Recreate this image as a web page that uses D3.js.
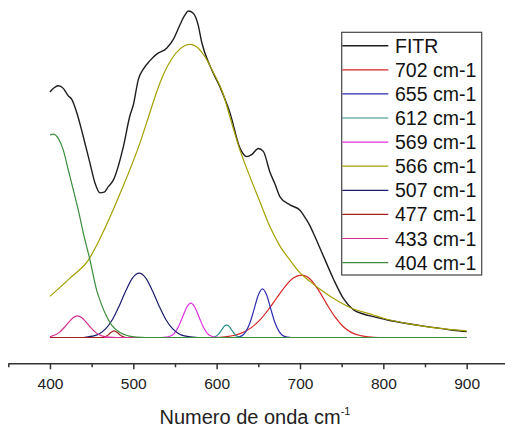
<!DOCTYPE html>
<html>
<head>
<meta charset="utf-8">
<script src="https://cdn.jsdelivr.net/npm/d3@7"></script>
<style>
  html, body { margin: 0; padding: 0; background: #fff; }
  svg { display: block; font-family: "Liberation Sans", Arial, sans-serif; }
</style>
</head>
<body>
<svg id="chart" width="505" height="429"></svg>
<script>
// ---- Data (wavenumber cm-1, absorbance a.u.) ----
const fitr = [[400,0.752],[405,0.765],[410,0.771],[416,0.763],[422,0.740],[426,0.730],[432,0.690],[440,0.615],[448,0.534],[454,0.473],[460,0.443],[465,0.445],[470,0.462],[476,0.482],[488,0.584],[496,0.680],[500,0.712],[506,0.790],[512,0.822],[520,0.848],[528,0.868],[540,0.886],[548,0.913],[556,0.958],[562,0.988],[566,1.0],[572,0.993],[578,0.955],[582,0.905],[592,0.832],[604,0.767],[616,0.688],[628,0.580],[636,0.554],[642,0.560],[650,0.579],[656,0.570],[664,0.506],[670,0.470],[676,0.431],[688,0.406],[700,0.390],[706,0.368],[712,0.342],[716,0.320],[728,0.250],[740,0.180],[752,0.120],[764,0.085],[776,0.072],[788,0.064],[808,0.052],[828,0.043],[848,0.035],[868,0.028],[884,0.022],[900,0.018]];

const c702 = [[400,0],[600,0],[612,0.003],[622,0.007],[632,0.016],[642,0.031],[652,0.054],[662,0.085],[672,0.121],[682,0.156],[692,0.182],[702,0.191],[712,0.179],[722,0.146],[732,0.103],[742,0.063],[752,0.033],[762,0.015],[772,0.006],[782,0.002],[795,0],[900,0]];
const c655 = [[400,0],[620,0],[625,0.001],[630,0.005],[635,0.018],[640,0.045],[645,0.087],[650,0.130],[655,0.149],[660,0.130],[665,0.087],[670,0.045],[675,0.018],[680,0.005],[685,0.001],[690,0],[900,0]];
const c612 = [[400,0],[594,0],[598,0.0025],[602,0.0095],[606,0.023],[609,0.034],[612,0.038],[615,0.034],[618,0.023],[622,0.0095],[626,0.0025],[630,0],[900,0]];
const c569 = [[400,0],[534,0],[539,0.001],[544,0.004],[549,0.012],[554,0.032],[559,0.062],[564,0.092],[569,0.105],[574,0.092],[579,0.062],[584,0.032],[589,0.012],[594,0.004],[599,0.001],[604,0],[900,0]];
const c566 = [[400,0.126],[424,0.182],[446,0.237],[466,0.335],[484,0.440],[508,0.596],[520,0.690],[528,0.752],[536,0.805],[546,0.853],[556,0.884],[568,0.898],[578,0.886],[586,0.860],[596,0.812],[608,0.745],[616,0.675],[628,0.574],[640,0.492],[652,0.415],[664,0.339],[676,0.280],[688,0.237],[700,0.198],[712,0.172],[724,0.148],[748,0.108],[760,0.092],[788,0.069],[800,0.059],[840,0.038],[868,0.028],[900,0.020]];
const c507 = [[400,0],[440,0],[443,0.001],[451,0.004],[459,0.011],[467,0.027],[475,0.055],[483,0.096],[491,0.143],[499,0.182],[507,0.197],[515,0.182],[523,0.143],[531,0.096],[539,0.055],[547,0.027],[555,0.011],[563,0.004],[571,0.001],[578,0],[900,0]];
const c477 = [[400,0],[462,0],[466,0.002],[470,0.008],[473,0.015],[477,0.020],[481,0.015],[484,0.008],[488,0.002],[492,0],[900,0]];
const c433 = [[400,0.002],[411,0.015],[418,0.033],[424,0.051],[428,0.061],[433,0.066],[438,0.061],[442,0.051],[448,0.033],[455,0.015],[463,0.004],[471,0.001],[480,0],[900,0]];
const c404 = [[400,0.620],[404,0.623],[410,0.610],[416,0.574],[422,0.513],[428,0.452],[434,0.390],[440,0.320],[448,0.237],[456,0.145],[462,0.100],[468,0.064],[474,0.038],[484,0.015],[494,0.005],[504,0.001],[515,0],[900,0]];

const seriesNames = ["FITR","702 cm-1","655 cm-1","612 cm-1","569 cm-1","566 cm-1","507 cm-1","477 cm-1","433 cm-1","404 cm-1"];
const seriesData = [fitr, c702, c655, c612, c569, c566, c507, c477, c433, c404];
const seriesColors = ["#1e1e1e","#d42424","#2e2eae","#2a8a8a","#e030e0","#a3a000","#1c1c70","#a02222","#d6308c","#3c8c3c"];

const majorTicks = [400,500,600,700,800,900];
const minorTicks = [350,450,550,650,750,850];
const xTitle = "Numero de onda cm";
const xTitleSup = "-1";

// ---- Chart ----
const svg = d3.select("#chart");
const x = d3.scaleLinear().domain([350, 946]).range([8.3, 505]);
const y = d3.scaleLinear().domain([0, 1]).range([337.5, 11]);

const line = d3.line()
  .x(d => x(d[0]))
  .y(d => y(d[1]))
  .curve(d3.curveMonotoneX);

svg.append("g")
  .selectAll("path")
  .data(seriesData)
  .join("path")
  .attr("d", d => line(d))
  .attr("fill", "none")
  .attr("stroke", (d, i) => seriesColors[i])
  .attr("stroke-width", (d, i) => i === 0 ? 1.4 : 1.2)
  .attr("stroke-linejoin", "round");

// X axis
const axisY = 363.3;
const gx = svg.append("g").attr("transform", `translate(0,${axisY})`);
gx.call(d3.axisBottom(x).tickValues(majorTicks).tickSize(6).tickSizeOuter(0).tickFormat(d3.format("d")));
gx.select(".domain").attr("stroke", "#333").attr("stroke-width", 1.5);
gx.selectAll(".tick line").attr("stroke", "#333").attr("stroke-width", 1.5);
gx.selectAll(".tick text")
  .attr("font-size", 15.5)
  .attr("fill", "#222")
  .attr("font-family", "'Liberation Sans', Arial, sans-serif")
  .attr("y", 14.5)
  .attr("dy", "0.71em");

const gxm = svg.append("g").attr("transform", `translate(0,${axisY})`);
gxm.call(d3.axisBottom(x).tickValues(minorTicks).tickSize(4).tickSizeOuter(0).tickFormat(""));
gxm.select(".domain").remove();
gxm.selectAll(".tick line").attr("stroke", "#333").attr("stroke-width", 1.5);

// Axis title
const title = svg.append("text")
  .attr("x", 255)
  .attr("y", 424)
  .attr("text-anchor", "middle")
  .attr("font-size", 20)
  .attr("fill", "#222");
title.append("tspan").text(xTitle);
title.append("tspan").attr("font-size", 11).attr("dy", -9).text(xTitleSup);

// Legend
const lg = svg.append("g");
lg.append("rect")
  .attr("x", 341.7).attr("y", 32.3)
  .attr("width", 140).attr("height", 242.7)
  .attr("fill", "#fff").attr("stroke", "#444").attr("stroke-width", 1.2);
const rows = lg.selectAll("g.row")
  .data(seriesNames)
  .join("g")
  .attr("class", "row")
  .attr("transform", (d, i) => `translate(0,${45.7 + i * 24.1})`);
rows.append("line")
  .attr("x1", 342.3).attr("x2", 388.3)
  .attr("stroke", (d, i) => seriesColors[i])
  .attr("stroke-width", (d, i) => i === 0 ? 1.4 : 1.2);
rows.append("text")
  .attr("x", 395)
  .attr("dy", "0.36em")
  .attr("font-size", 19.5)
  .attr("fill", "#111")
  .text(d => d);
</script>
</body>
</html>
